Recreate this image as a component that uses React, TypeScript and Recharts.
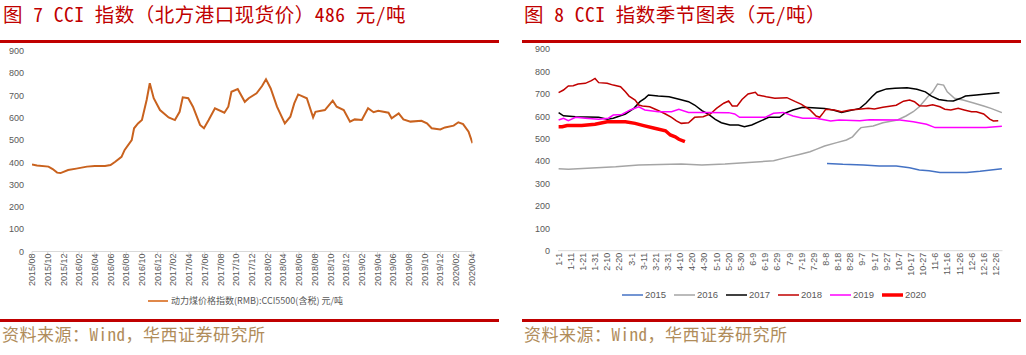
import React from 'react';
import { LineChart, Line, XAxis, YAxis, Legend } from 'recharts';

// ---------- Figure 7: CCI index (daily spot) ----------
const cciDates = [
  '2015-08-01', '2015-08-20', '2015-10-04', '2015-10-20', '2015-11-07', '2015-11-20', '2015-12-19',
  '2016-01-20', '2016-03-01', '2016-04-01', '2016-05-10', '2016-06-01', '2016-06-19', '2016-07-13',
  '2016-07-25', '2016-08-22', '2016-09-01', '2016-09-16', '2016-10-01', '2016-10-19', '2016-11-01',
  '2016-11-16', '2016-12-10', '2017-01-13', '2017-02-07', '2017-02-25', '2017-03-07', '2017-03-28',
  '2017-04-16', '2017-05-13', '2017-05-28', '2017-06-16', '2017-07-10', '2017-08-16', '2017-09-01',
  '2017-09-13', '2017-10-07', '2017-11-04', '2017-11-19', '2017-12-19', '2018-01-10', '2018-01-25',
  '2018-02-13', '2018-03-07', '2018-04-07', '2018-04-28', '2018-05-13', '2018-05-28', '2018-07-01',
  '2018-07-25', '2018-08-04', '2018-09-10', '2018-10-10', '2018-10-25', '2018-11-22', '2018-12-16',
  '2019-01-04', '2019-02-01', '2019-02-25', '2019-03-16', '2019-04-04', '2019-05-13', '2019-05-25',
  '2019-06-22', '2019-07-10', '2019-08-07', '2019-09-19', '2019-10-10', '2019-10-28', '2019-12-01',
  '2019-12-19', '2020-01-22', '2020-02-10', '2020-02-28', '2020-03-19', '2020-04-04',
];
const cciValues = [
  391, 386, 381, 370, 354, 352, 366,
  372, 381, 384, 384, 388, 403, 425,
  456, 500, 553, 575, 590, 680, 755,
  688, 635, 602, 590, 627, 692, 688,
  650, 568, 553, 590, 643, 623, 650,
  717, 729, 672, 688, 710, 743, 773,
  732, 650, 575, 605, 665, 705, 688,
  602, 627, 635, 677, 650, 635, 583,
  593, 590, 643, 625, 632, 623, 598,
  620, 593, 583, 587, 575, 553, 548,
  557, 565, 580, 572, 538, 486,
];
const monthTickLabels = [
  '2015/08', '2015/10', '2015/12', '2016/02', '2016/04', '2016/06', '2016/08', '2016/10', '2016/12',
  '2017/02', '2017/04', '2017/06', '2017/08', '2017/10', '2017/12', '2018/02', '2018/04', '2018/06',
  '2018/08', '2018/10', '2018/12', '2019/02', '2019/04', '2019/06', '2019/08', '2019/10', '2019/12',
  '2020/02', '2020/04',
];
const yTicks = [0, 100, 200, 300, 400, 500, 600, 700, 800, 900];

// ---------- Figure 8: seasonal chart (day of a leap year, 0 = 1-1) ----------
const seasonTickLabels = [
  '1-1', '1-11', '1-21', '1-31', '2-10', '2-20', '3-1', '3-11', '3-21', '3-31', '4-10', '4-20', '4-30',
  '5-10', '5-20', '5-30', '6-9', '6-19', '6-29', '7-9', '7-19', '7-29', '8-8', '8-18', '8-28', '9-7',
  '9-17', '9-27', '10-7', '10-17', '10-27', '11-6', '11-16', '11-26', '12-6', '12-16', '12-26',
];
const seasonTickDays = seasonTickLabels.map((_, i) => i * 10);

const y2015Days = [221, 234, 251, 264, 278, 289, 297, 305, 314, 325, 336, 347, 365];
const y2015Values = [390, 386, 383, 378, 378, 371, 361, 357, 350, 350, 350, 355, 366];

const y2016Days = [0, 8, 47, 66, 101, 118, 137, 153, 177, 188, 199, 207, 212, 219, 229, 237, 242, 247, 249, 259,
  267, 279, 286, 292, 297, 304, 308, 312, 317, 320, 326, 333, 341, 350, 356, 365];
const y2016Values = [366, 364, 375, 383, 387, 383, 387, 393, 402, 417, 431, 442, 453, 468, 483, 495, 509, 539, 550, 557,
  572, 584, 602, 621, 643, 688, 710, 745, 740, 710, 681, 673, 661, 647, 636, 617];

const y2017Days = [0, 4, 14, 33, 40, 45, 55, 62, 67, 71, 74, 82, 91, 100, 107, 112, 118, 123, 129, 134,
  141, 148, 153, 159, 167, 173, 182, 186, 193, 201, 209, 219, 226, 233, 240, 248, 253, 258, 262, 270,
  277, 287, 295, 302, 307, 313, 320, 325, 331, 335, 344, 352, 363];
const y2017Values = [617, 603, 599, 596, 588, 592, 611, 636, 666, 681, 696, 691, 688, 676, 666, 651, 626, 611, 587, 572,
  562, 562, 554, 562, 581, 596, 596, 614, 629, 641, 639, 636, 629, 618, 626, 636, 659, 688, 708, 723,
  726, 728, 721, 710, 691, 676, 670, 669, 681, 691, 696, 700, 706];

const y2018Days = [0, 4, 8, 12, 16, 22, 27, 30, 33, 40, 45, 51, 55, 58, 63, 66, 69, 75, 81, 88,
  93, 97, 101, 107, 112, 119, 125, 130, 136, 140, 143, 147, 151, 156, 162, 164, 171, 178, 188, 195,
  200, 207, 212, 215, 218, 220, 227, 233, 240, 247, 255, 260, 267, 278, 284, 289, 293, 297, 303, 308,
  314, 318, 323, 329, 334, 340, 344, 350, 355, 358, 362];
const y2018Values = [706, 718, 736, 737, 745, 748, 760, 770, 751, 748, 740, 733, 710, 691, 673, 651, 647, 643, 629, 611,
  596, 580, 569, 572, 596, 599, 611, 636, 659, 669, 647, 647, 676, 700, 708, 696, 688, 681, 684, 666,
  654, 629, 602, 596, 617, 632, 629, 621, 629, 632, 636, 633, 641, 650, 668, 673, 666, 648, 647, 652,
  643, 632, 629, 636, 629, 621, 621, 611, 588, 580, 581];

const y2019Days = [0, 4, 8, 14, 22, 33, 41, 45, 52, 59, 66, 71, 82, 93, 99, 107, 121, 140, 145, 149,
  170, 177, 185, 193, 201, 212, 224, 231, 248, 256, 281, 292, 303, 310, 331, 352, 365];
const y2019Values = [584, 592, 581, 596, 592, 587, 592, 606, 609, 629, 643, 629, 621, 621, 632, 618, 618, 617, 611, 596,
  596, 614, 618, 602, 592, 592, 580, 584, 581, 585, 584, 576, 565, 550, 550, 550, 556];

const y2020Days = [0, 3, 7, 19, 30, 40, 55, 63, 70, 79, 88, 92, 96, 99, 104];
const y2020Values = [554, 554, 559, 559, 565, 576, 576, 569, 559, 547, 536, 517, 509, 498, 487];

const seasonSeries = [
  { name: '2015', days: y2015Days, values: y2015Values, color: '#4472C4', width: 1.5 },
  { name: '2016', days: y2016Days, values: y2016Values, color: '#A5A5A5', width: 1.5 },
  { name: '2017', days: y2017Days, values: y2017Values, color: '#000000', width: 1.5 },
  { name: '2018', days: y2018Days, values: y2018Values, color: '#C00000', width: 1.5 },
  { name: '2019', days: y2019Days, values: y2019Values, color: '#FF00FF', width: 1.5 },
  { name: '2020', days: y2020Days, values: y2020Values, color: '#FF0000', width: 3.5 },
];

// ---------- helpers ----------
const monthIndex = (s: string) => {
  const [y, m, d] = s.split('-').map(Number);
  return (y - 2015) * 12 + (m - 8) + (d - 1) / 30;
};
const cciData = cciDates.map((d, i) => ({ m: monthIndex(d), v: cciValues[i] }));
const monthTicks = monthTickLabels.map((l) => monthIndex(l.replace('/', '-') + '-01'));
const maxMonth = Math.max(...cciData.map((p) => p.m));

const AXIS_FONT = '"Liberation Sans", Arial, "Noto Sans CJK SC", sans-serif';
const CJK_FONT = '"Noto Sans Mono CJK SC", "Noto Sans CJK SC", sans-serif';
const AXIS_COLOR = '#595959';
const RED = '#C00000';
const SOURCE_COLOR = '#B08C5A';
const CCI_COLOR = '#C9621E';

const RotTick = (labels: string[], ticks: number[]) => (props: any) => {
  const { x, y, payload } = props;
  const idx = ticks.findIndex((t) => Math.abs(t - payload.value) < 1e-6);
  const label = idx >= 0 ? labels[idx] : '';
  const ty = y - 1;
  return (
    <text
      x={x}
      y={ty}
      transform={`rotate(-90 ${x} ${ty})`}
      textAnchor="end"
      dy="0.35em"
      fontSize={9}
      fill={AXIS_COLOR}
      fontFamily={AXIS_FONT}
    >
      {label}
    </text>
  );
};

const LeftLegend = () => (
  <div style={{ position: 'relative', height: 22 }}>
    <svg width={20} height={4} style={{ position: 'absolute', left: 142, top: 9 }}>
      <line x1={0} y1={2} x2={20} y2={2} stroke="#E0884A" strokeWidth={2} />
    </svg>
    <span
      style={{
        position: 'absolute',
        left: 165,
        top: 4,
        fontSize: 9,
        lineHeight: '14px',
        color: AXIS_COLOR,
        fontFamily: '"Noto Sans CJK SC", sans-serif',
        whiteSpace: 'nowrap',
      }}
    >
      动力煤价格指数(RMB):CCI5500(含税) 元/吨
    </span>
  </div>
);

const RightLegend = () => (
  <div style={{ position: 'relative', height: 20 }}>
    {seasonSeries.map((s, i) => (
      <React.Fragment key={s.name}>
        <svg width={21} height={6} style={{ position: 'absolute', left: 99 + i * 52, top: 7 }}>
          <line x1={0} y1={3} x2={21} y2={3} stroke={s.color} strokeWidth={s.name === '2020' ? 3.5 : 1.5} />
        </svg>
        <span
          style={{
            position: 'absolute',
            left: 122 + i * 52,
            top: 3,
            fontSize: 9.5,
            lineHeight: '14px',
            color: AXIS_COLOR,
            fontFamily: AXIS_FONT,
          }}
        >
          {s.name}
        </span>
      </React.Fragment>
    ))}
  </div>
);

const Title = ({ left, text }: { left: number; text: string }) => (
  <div
    style={{
      position: 'absolute',
      left,
      top: 2,
      fontSize: 19.5,
      lineHeight: '24px',
      color: RED,
      fontFamily: CJK_FONT,
      whiteSpace: 'nowrap',
      letterSpacing: 0.5,
    }}
  >
    {text}
  </div>
);

const Source = ({ left }: { left: number }) => (
  <div
    style={{
      position: 'absolute',
      left,
      top: 323,
      fontSize: 17,
      lineHeight: '22px',
      color: SOURCE_COLOR,
      fontFamily: CJK_FONT,
      whiteSpace: 'nowrap',
      letterSpacing: 0.5,
    }}
  >
    资料来源：Wind，华西证券研究所
  </div>
);

const Rule = ({ left, top, width }: { left: number; top: number; width: number }) => (
  <div style={{ position: 'absolute', left, top, width, height: 3, background: RED }} />
);

export default function App() {
  return (
    <div
      style={{
        position: 'absolute',
        left: 0,
        top: 0,
        width: 1026,
        height: 355,
        background: '#ffffff',
        overflow: 'hidden',
      }}
    >
      <Title left={3} text="图 7 CCI 指数（北方港口现货价）486 元/吨" />
      <Title left={524} text="图 8 CCI 指数季节图表（元/吨）" />
      <Rule left={0} top={40} width={499} />
      <Rule left={522} top={40} width={499} />

      <div style={{ position: 'absolute', left: 0, top: 40 }}>
        <LineChart width={500} height={280} margin={{ top: 11, right: 27.5, bottom: 8, left: 6 }}>
          <XAxis
            dataKey="m"
            type="number"
            domain={[0, maxMonth]}
            ticks={monthTicks}
            interval={0}
            height={38.5}
            stroke="#D9D9D9"
            tickSize={3}
            tickMargin={0}
            tickLine={{ stroke: '#D9D9D9' }}
            tick={RotTick(monthTickLabels, monthTicks)}
            allowDataOverflow
          />
          <YAxis
            type="number"
            domain={[0, 900]}
            ticks={yTicks}
            interval={0}
            width={26}
            axisLine={false}
            tickLine={false}
            tick={{ fontSize: 9, fill: AXIS_COLOR, fontFamily: AXIS_FONT }}
          />
          <Legend verticalAlign="bottom" height={22} content={() => <LeftLegend />} />
          <Line
            data={cciData}
            dataKey="v"
            type="linear"
            stroke={CCI_COLOR}
            strokeWidth={2}
            dot={false}
            isAnimationActive={false}
            name="动力煤价格指数(RMB):CCI5500(含税) 元/吨"
          />
        </LineChart>
      </div>

      <div style={{ position: 'absolute', left: 515, top: 40 }}>
        <LineChart width={500} height={280} margin={{ top: 9.3, right: 12.5, bottom: 15.3, left: 8 }}>
          <XAxis
            dataKey="d"
            type="number"
            domain={[-0.5, 365.5]}
            ticks={seasonTickDays}
            interval={0}
            height={34}
            stroke="#D9D9D9"
            tickSize={3}
            tickMargin={0}
            tickLine={false}
            tick={RotTick(seasonTickLabels, seasonTickDays)}
            allowDataOverflow
          />
          <YAxis
            type="number"
            domain={[0, 900]}
            ticks={yTicks}
            interval={0}
            width={35}
            axisLine={false}
            tickLine={false}
            tick={{ fontSize: 9, fill: AXIS_COLOR, fontFamily: AXIS_FONT }}
          />
          <Legend verticalAlign="bottom" height={20} content={() => <RightLegend />} />
          {seasonSeries.map((s) => (
            <Line
              key={s.name}
              data={s.days.map((d, i) => ({ d, v: s.values[i] }))}
              dataKey="v"
              name={s.name}
              type="linear"
              stroke={s.color}
              strokeWidth={s.width}
              dot={false}
              isAnimationActive={false}
            />
          ))}
        </LineChart>
      </div>

      <Rule left={0} top={319} width={499} />
      <Rule left={522} top={319} width={499} />
      <Source left={2} />
      <Source left={524} />
    </div>
  );
}
